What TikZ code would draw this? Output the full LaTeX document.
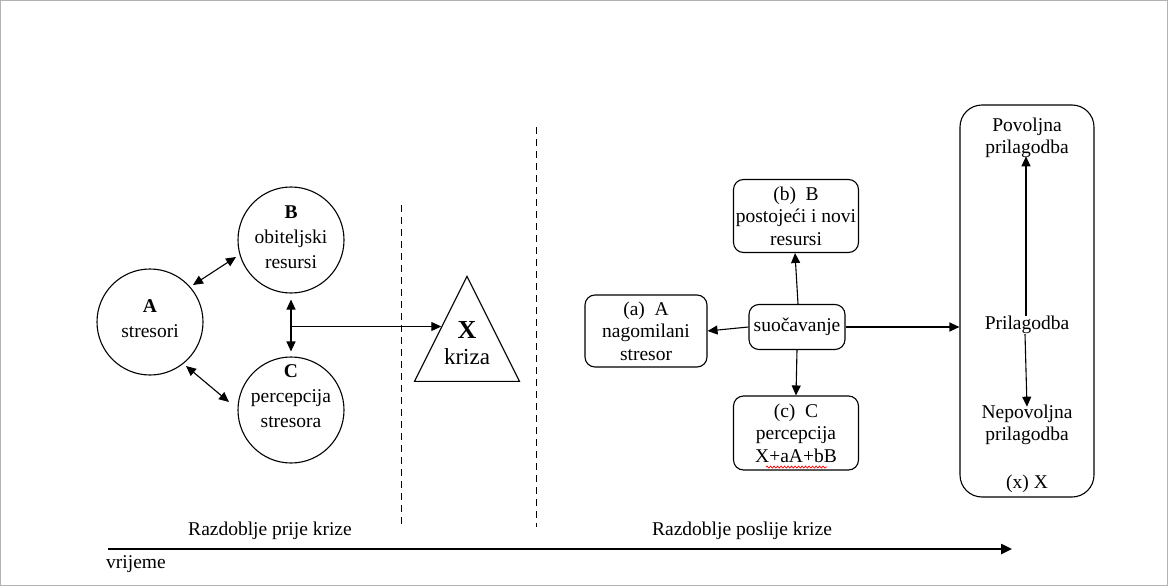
\documentclass[tikz,border=0pt]{standalone}
\usepackage{fontspec}
\setmainfont{Liberation Serif}
\usetikzlibrary{arrows.meta,shapes.geometric,decorations.pathmorphing,calc}
\begin{document}
\begin{tikzpicture}[x=1pt,y=-1pt,
  txt/.style={align=center,inner sep=0pt,font=\fontsize{19.5}{22.5}\selectfont},
  ctxt/.style={align=center,inner sep=0pt,font=\fontsize{19.5}{25}\selectfont},
  circ/.style={draw,circle,minimum size=106pt,inner sep=0pt,line width=1.1pt},
  rbox/.style={draw,rounded corners=10pt,line width=1.1pt,align=center,inner sep=0pt,font=\fontsize{19.5}{22.5}\selectfont},
  arr/.style={line width=1.1pt,-{Triangle[length=10pt,width=9pt]}},
  darr/.style={line width=1.1pt,{Triangle[length=10pt,width=9pt]}-{Triangle[length=10pt,width=9pt]}},
  dline/.style={line width=1pt,dash pattern=on 7pt off 5pt},
  lab/.style={inner sep=0pt,font=\fontsize{19.5}{22}\selectfont}]
\useasboundingbox (0,0) rectangle (1168,586);
\draw[gray!60,line width=0.8pt] (0.5,0.5) rectangle (1167.5,585.5);
% circles
\node[circ] (A) at (150,322) {};
\node[ctxt] (At) at (150,319) {\textbf{A}\\stresori};
\node[circ] (B) at (291,240) {};
\node[ctxt] (Bt) at (291,237) {\textbf{B}\\obiteljski\\resursi};
\node[circ] (C) at (291,410) {};
\node[ctxt] (Ct) at (291,396) {\textbf{C}\\percepcija\\stresora};
\draw[darr] (193,285) coordinate (ab1) -- (236,257) coordinate (ab2);
\draw[darr] (186,366) coordinate (ac1) -- (229,402) coordinate (ac2);
\draw[darr] ([yshift=-6pt]B.south) -- ([yshift=5pt]C.north);
% triangle
\node[draw,isosceles triangle,isosceles triangle stretches,shape border rotate=90,
  minimum width=105pt,minimum height=105pt,inner sep=0pt,line width=1.1pt,anchor=apex] (T) at (467,275) {};
\node[txt] (Tt) at (467,343) {{\fontsize{26}{26}\selectfont\textbf{X}}\\[4pt]{\fontsize{23}{26}\selectfont kriza}};
\coordinate (Tin) at ([xshift=1pt,yshift=2pt]T.left side);
\draw[arr] (B.south |- Tin) -- (Tin);
% dashed lines
\draw[dline] (401,205) coordinate (d1a) -- (401,526) coordinate (d1b);
\draw[dline] (536,127) coordinate (d2a) -- (536,527) coordinate (d2b);
% boxes
\node[rbox,minimum width=96pt,minimum height=45pt] (S) at (797,327) {suočavanje};
\node[rbox,minimum width=122pt,minimum height=72pt] (Ab) at (646,331) {(a)\ \ A\\nagomilani\\stresor};
\node[rbox,minimum width=125pt,minimum height=73pt] (Bb) at (796,216) {(b)\ \ B\\postojeći i novi\\resursi};
\node[rbox,minimum width=125pt,minimum height=74pt] (Cb) at (796,433) {(c)\ \ C\\percepcija\\X+aA+bB};
\draw[red,line width=0.7pt,decorate,decoration={snake,segment length=3.5pt,amplitude=1pt}]
  ($(Cb.south)+(-30,-3.5)$) coordinate (w1) -- ($(Cb.south)+(31,-3.5)$) coordinate (w2);
\draw[arr] (S.west) -- (Ab.east);
\draw[arr] ([xshift=1pt]S.north) -- ([xshift=-1pt]Bb.south);
\draw[arr] (S.south) -- (Cb.north);
% big box
\node[draw,rounded corners=22pt,line width=1.1pt,minimum width=134pt,minimum height=392pt,inner sep=0pt] (X) at (1027,301) {};
\draw[arr] (S.east) -- (S.east -| X.west);
\node[txt] (P1) at (1027,138) {Povoljna\\prilagodba};
\node[txt] (P0) at (1027,325) {Prilagodba};
\node[txt] (P2) at (1027,425) {Nepovoljna\\prilagodba};
\node[txt] (Px) at (1027,484) {(x) X};
\draw[arr] ([xshift=-1pt]P0.north) -- ([xshift=-1pt,yshift=2pt]P1.south);
\draw[arr] ([xshift=-2pt]P0.south) -- ([yshift=-2pt]P2.north);
% timeline
\draw[line width=2.4pt,-{Triangle[length=11pt,width=10pt]}] (108,549) coordinate (t0) -- (1012,549) coordinate (t1);
\node[lab] (L1) at (270,531) {Razdoblje prije krize};
\node[lab] (L2) at (742,531) {Razdoblje poslije krize};
\node[lab,anchor=west] (L3) at (106,564) {vrijeme};
\end{tikzpicture}
\end{document}
